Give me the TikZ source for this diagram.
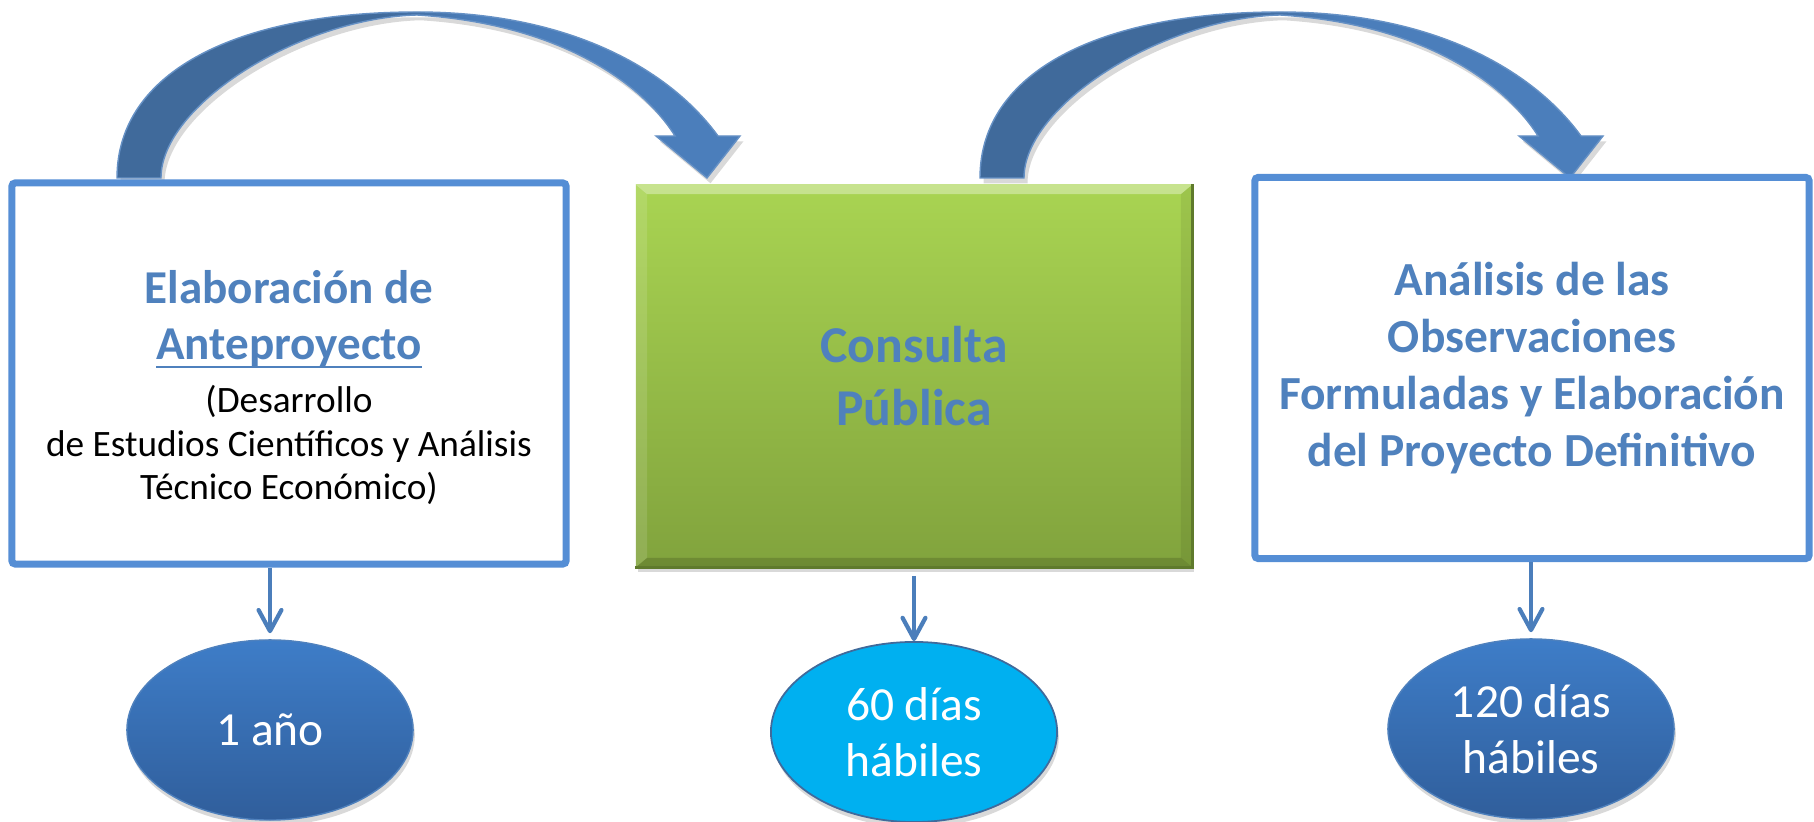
\documentclass[tikz,border=0pt]{standalone}
\usepackage{fontspec}
\setmainfont{Carlito}
\usetikzlibrary{arrows.meta,positioning,shapes.geometric,shadows,calc}
\setlength{\parindent}{0pt}

\definecolor{boxblue}{HTML}{558ED5}
\definecolor{txtblue}{HTML}{4F81BD}
\definecolor{arrowdark}{HTML}{406A9B}
\definecolor{arrowlight}{HTML}{4B7EBB}
\definecolor{ovaltop}{HTML}{3E7DC8}
\definecolor{ovalbot}{HTML}{305E9B}
\definecolor{ovalcyan}{HTML}{00B0F0}
\definecolor{greentop}{HTML}{A9D452}
\definecolor{greenbot}{HTML}{81A33D}
\definecolor{greendark}{HTML}{5F7A2C}

\pgfdeclarehorizontalshading{bigarrowshade}{100bp}{color(0bp)=(arrowdark); color(46bp)=(arrowdark); color(54bp)=(arrowlight); color(100bp)=(arrowlight)}

\newcommand{\ulword}[1]{\leavevmode\setbox0\hbox{#1}\rlap{\rule[-2.4pt]{\wd0}{0.55pt}}\box0}

\tikzset{
  every node/.style={execute at begin node={\spaceskip=0pt \xspaceskip=0pt}},
  plainbox/.style={draw=boxblue, line width=2pt, rounded corners=1pt, fill=white,
    minimum width=5.54cm, minimum height=3.81cm, text width=5.3cm, align=flush center, inner sep=0pt},
  greenbox/.style={top color=greentop, bottom color=greenbot, minimum width=5.56cm, minimum height=3.82cm,
    align=center, inner sep=0pt, text=txtblue, font=\fontsize{14.7}{17.9}\selectfont\bfseries,
    drop shadow={opacity=0.3, shadow xshift=0.5pt, shadow yshift=-1.5pt}},
  oval/.style={ellipse, minimum width=2.86cm, minimum height=1.8cm, inner sep=0pt, align=center,
    text=white, font=\fontsize{13.5}{16}\selectfont,
    drop shadow={opacity=0.3, shadow xshift=0.5pt, shadow yshift=-1.5pt}},
  darkoval/.style={oval, top color=ovaltop, bottom color=ovalbot, draw=txtblue, line width=0.4pt},
  lightoval/.style={oval, fill=ovalcyan, draw=arrowdark, line width=0.5pt},
  bigarrow/.style={shade, shading=bigarrowshade, draw=arrowlight!85!white, line width=0.4pt,
    drop shadow={opacity=0.3, shadow xshift=1pt, shadow yshift=-1.5pt}},
  smallarrow/.style={draw=arrowlight, line width=1.2pt, -{Straight Barb[length=6pt,width=6.5pt,round]}}
}

\begin{document}
\begin{tikzpicture}[x=0.01cm,y=-0.01cm]
  \useasboundingbox (0,0) rectangle (1814,822);

  % curved arrows over the boxes
  \foreach \dx in {0,863}{
    \begin{scope}[shift={(\dx,0)}]
      \path[bigarrow] (117,178) .. controls (117,70) and (240,12) .. (417,12)
        .. controls (570,12) and (670,70) .. (718,136)
        -- (740,136) -- (707,178) -- (656,136) -- (675,136)
        .. controls (650,95) and (575,25) .. (417,15)
        .. controls (300,18) and (161,105) .. (161,178) -- cycle;
    \end{scope}
  }

  % boxes
  \node[plainbox] (elab) at (289,373.5) {%
    \vskip 0.04cm
    {\color{txtblue}\fontsize{13.4}{16.4}\selectfont\bfseries Elaboración de\par}
    {\color{txtblue}\fontsize{13.4}{16}\selectfont\bfseries \ulword{Anteproyecto}\par}
    {\fontsize{10.6}{15}\selectfont (Desarrollo\par}
    {\fontsize{10.6}{12.4}\selectfont de Estudios Científicos y Análisis\par}
    {\fontsize{10.6}{12.4}\selectfont Técnico Económico)\par}};
  \node[greenbox] (consulta) at (914,376) {Consulta\\Pública};
  \node[plainbox, text=txtblue, font=\fontsize{13.5}{16.2}\selectfont\bfseries] (analisis) at (1532,368)
    {Análisis de las\\Observaciones\\Formuladas y Elaboración\\del Proyecto Definitivo};

  % bevel of the green box
  \fill[white,opacity=.35] (consulta.north west) -- (consulta.north east) -- ($(consulta.north east)+(-12,10)$) -- ($(consulta.north west)+(12,10)$) -- cycle;
  \fill[white,opacity=.12] (consulta.north west) -- ($(consulta.north west)+(12,10)$) -- ($(consulta.south west)+(12,-10)$) -- (consulta.south west) -- cycle;
  \fill[black,opacity=.07] (consulta.north east) -- ($(consulta.north east)+(-12,10)$) -- ($(consulta.south east)+(-12,-10)$) -- (consulta.south east) -- cycle;
  \fill[black,opacity=.15] (consulta.south west) -- ($(consulta.south west)+(12,-10)$) -- ($(consulta.south east)+(-12,-10)$) -- (consulta.south east) -- cycle;
  \draw[greendark, line width=0.8pt] (consulta.north east) -- (consulta.south east) -- (consulta.south west);

  % durations
  \node[darkoval] (t1) at (270,730) {1 año};
  \node[lightoval] (t2) at (914,732) {60 días\\hábiles};
  \node[darkoval] (t3) at (1531,729) {120 días\\hábiles};

  \draw[smallarrow, shorten >=0.06cm] (t1.north |- elab.south) -- (t1.north);
  \draw[smallarrow, shorten <=0.08cm] (t2.north |- consulta.south) -- (t2.north);
  \draw[smallarrow, shorten >=0.06cm] (t3.north |- analisis.south) -- (t3.north);
\end{tikzpicture}
\end{document}
